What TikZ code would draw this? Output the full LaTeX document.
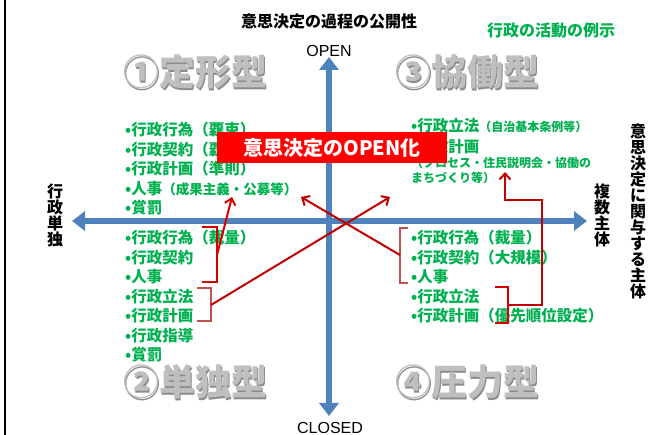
\documentclass[tikz,border=0pt]{standalone}
\usepackage{fontspec}
\setmainfont{Noto Sans CJK JP}
\newfontfamily\latinfont{Liberation Sans}
\usetikzlibrary{arrows.meta}
\definecolor{axisblue}{HTML}{4F81BD}
\definecolor{itemgreen}{HTML}{00B050}
\definecolor{linkred}{HTML}{C00000}
\definecolor{bracered}{HTML}{D40000}
\definecolor{mutedred}{HTML}{C0504D}
\definecolor{boxred}{HTML}{FF0000}
\tikzset{
  axis/.style={line width=5.5pt, draw=axisblue, {Triangle[width=19pt,length=13pt]}-{Triangle[width=19pt,length=13pt]}},
  item/.style={anchor=west, inner sep=0pt, text=itemgreen, font=\fontsize{15.5}{16}\selectfont\bfseries},
  typename/.style={inner sep=0pt, text=black!25, font=\fontsize{36}{36}\selectfont\bfseries},
  typeshadow/.style={typename, text=black!45},
  vlabel/.style={align=center, inner sep=0pt, font=\fontsize{16}{16}\selectfont\bfseries},
  brace/.style={line width=2pt},
  link/.style={line width=2pt, draw=linkred, -{Straight Barb[length=6pt,width=11pt]}},
}
\newcommand{\smallnote}[1]{{\fontsize{13.5}{14}\selectfont #1}}
\newcommand{\tinynote}[1]{{\fontsize{12}{13}\selectfont #1}}

\begin{document}
\begin{tikzpicture}[x=1pt, y=-1pt]
	%%%%% START %%%%%
	\useasboundingbox (0, 0) rectangle (648, 435);
	\draw[line width=2.5pt] (5, 0) -- (5, 435);
	
	\coordinate (openend) at (329, 57);
	\coordinate (closedend) at (329, 416);
	\coordinate (singleend) at (72, 221);
	\coordinate (multiend) at (587, 221);
	\draw[axis] (singleend) -- (multiend);
	\draw[axis] (openend) -- (closedend);
	
	\node[font=\latinfont\fontsize{16}{16}\selectfont] (open) at (329, 51) {OPEN};
	\node[font=\latinfont\fontsize{16}{16}\selectfont, anchor=base] (closed) at (330, 434) {CLOSED};
	
	\node[font=\fontsize{16}{16}\selectfont\bfseries] (title) at (329, 21) {意思決定の過程の公開性};
	\node[font=\fontsize{16}{16}\selectfont\bfseries, text=itemgreen] (examples) at (551, 30) {行政の活動の例示};
	
	\node[vlabel] (single) at (55, 215) {行\\政\\単\\独};
	\node[vlabel] (multi) at (602, 215) {複\\数\\主\\体};
	\node[vlabel] (actors) at (638, 211) {意\\思\\決\\定\\に\\関\\与\\す\\る\\主\\体};
	
	\node[typeshadow] (fixedshade) at (196.5, 73.5) {①定形型};
	\node[typename] (fixed) at (195, 72) {①定形型};
	\node[typeshadow] (collabshade) at (468.5, 73.5) {③協働型};
	\node[typename] (collab) at (467, 72) {③協働型};
	\node[typeshadow] (aloneshade) at (196.5, 383.5) {②単独型};
	\node[typename] (alone) at (195, 382) {②単独型};
	\node[typeshadow] (pressureshade) at (468.5, 383.5) {④圧力型};
	\node[typename] (pressure) at (467, 382) {④圧力型};
	
	\node[item] (tl1) at (125, 130) {•行政行為（覊束）};
	\node[item] (tl2) at (125, 149.5) {•行政契約（覊束）};
	\node[item] (tl3) at (125, 169) {•行政計画（準則）};
	\node[item] (tl4) at (125, 188.5) {•人事\smallnote{（成果主義・公募等）}};
	\node[item] (tl5) at (125, 208) {•賞罰};
	
	\node[item] (bl1) at (125, 238) {•行政行為（裁量）};
	\node[item] (bl2) at (125, 257.5) {•行政契約};
	\node[item] (bl3) at (125, 277) {•人事};
	\node[item] (bl4) at (125, 296.5) {•行政立法};
	\node[item] (bl5) at (125, 316) {•行政計画};
	\node[item] (bl6) at (125, 335.5) {•行政指導};
	\node[item] (bl7) at (125, 355) {•賞罰};
	
	\node[item] (tr1) at (411, 126) {•行政立法\tinynote{（自治基本条例等）}};
	\node[item] (tr2) at (411, 147) {•行政計画};
	\node[item] (tr3) at (411, 163) {\tinynote{（プロセス・住民説明会・協働の}};
	\node[item] (tr4) at (411, 178) {\tinynote{まちづくり等）}};
	
	\node[item] (br1) at (411, 238) {•行政行為（裁量）};
	\node[item] (br2) at (411, 257.5) {•行政契約（大規模）};
	\node[item] (br3) at (411, 277) {•人事};
	\node[item] (br4) at (411, 296.5) {•行政立法};
	\node[item] (br5) at (411, 316) {•行政計画（優先順位設定）};
	
	\draw[brace, draw=bracered] (202, 227) -- (217, 227) -- (217, 282) -- (202, 282);
	\draw[brace, draw=mutedred] (197, 288) -- (211, 288) -- (211, 321) -- (197, 321);
	\draw[brace, draw=mutedred] (408, 228) -- (400, 228) -- (400, 283) -- (408, 283);
	\draw[brace, draw=bracered] (495, 287) -- (508, 287) -- (508, 323) -- (495, 323);
	
	\coordinate (braceA) at (217, 255);
	\coordinate (tipA) at (232, 197);
	\coordinate (braceB) at (211, 305);
	\coordinate (tipB) at (390, 197);
	\coordinate (braceC) at (400, 255);
	\coordinate (tipC) at (301, 197);
	\coordinate (braceD) at (508, 305);
	\coordinate (bendD) at (542, 200);
	\coordinate (tipD) at (505, 172);
	\draw[link, draw=bracered] (braceA) -- (tipA);
	\draw[link] (braceB) -- (tipB);
	\draw[link] (braceC) -- (tipC);
	\draw[link] (braceD) -| (bendD) -| (tipD);
	
	\node[fill=boxred, text=white, minimum width=230pt, minimum height=31pt, font=\fontsize{20}{20}\selectfont\bfseries] (openbox) at (332, 147.5) {意思決定のOPEN化};
	
	%%%%% END %%%%%
\end{tikzpicture}
\end{document}
